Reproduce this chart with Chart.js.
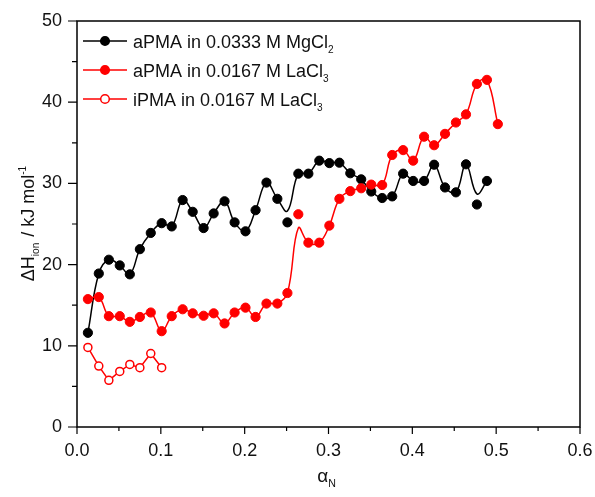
<!DOCTYPE html>
<html>
<head>
<meta charset="utf-8">
<script src="https://cdn.jsdelivr.net/npm/chart.js@4"></script>
<style>
  html, body { margin: 0; padding: 0; background: #fff; }
</style>
</head>
<body>
<canvas id="chart" width="595" height="497"></canvas>
<script>
// degree of neutralisation, aPMA in MgCl2
const alphaMg = [0.013, 0.026, 0.038, 0.051, 0.063, 0.075, 0.088, 0.101, 0.113, 0.126,
  0.138, 0.151, 0.163, 0.176, 0.188, 0.201, 0.213, 0.226, 0.239, 0.251,
  0.264, 0.276, 0.289, 0.301, 0.313, 0.326, 0.339, 0.351, 0.364, 0.376,
  0.389, 0.401, 0.414, 0.426, 0.439, 0.452, 0.464, 0.477, 0.489];
const dhMg = [11.6, 18.9, 20.6, 19.9, 18.8, 21.9, 23.9, 25.1, 24.7, 27.95,
  26.5, 24.5, 26.3, 27.8, 25.2, 24.1, 26.7, 30.1, 28.1, 25.2,
  31.2, 31.2, 32.8, 32.5, 32.55, 31.25, 30.5, 29.0, 28.2, 28.4,
  31.2, 30.3, 30.3, 32.3, 29.5, 28.9, 32.35, 27.4, 30.3];

// aPMA in LaCl3
const alphaLa = [0.013, 0.026, 0.038, 0.051, 0.063, 0.075, 0.088, 0.101, 0.113, 0.126,
  0.138, 0.151, 0.163, 0.176, 0.188, 0.201, 0.213, 0.226, 0.239, 0.251,
  0.264, 0.276, 0.289, 0.301, 0.313, 0.326, 0.339, 0.351, 0.364, 0.376,
  0.389, 0.401, 0.414, 0.426, 0.439, 0.452, 0.464, 0.477, 0.489, 0.502];
const dhLa = [15.75, 16.0, 13.65, 13.65, 12.95, 13.55, 14.1, 11.8, 13.65, 14.5,
  14.0, 13.7, 14.0, 12.75, 14.1, 14.7, 13.55, 15.2, 15.2, 16.5,
  26.2, 22.7, 22.7, 24.8, 28.1, 29.05, 29.4, 29.85, 29.8, 33.5,
  34.1, 32.8, 35.75, 34.7, 36.1, 37.5, 38.5, 42.25, 42.75, 37.3];

// iPMA in LaCl3
const alphaIso = [0.013, 0.026, 0.038, 0.051, 0.063, 0.075, 0.088, 0.101];
const dhIso = [9.8, 7.5, 5.75, 6.85, 7.7, 7.3, 9.05, 7.3];

// smoothed curves: same as points except where the curve misses a point
const fitMg = dhMg.slice();
fitMg[19] = 26.6;
fitMg[37] = 28.7;
const fitLa = dhLa.slice();
fitLa[20] = 24.5;

const seriesNames = ["aPMA in 0.0333 M MgCl", "aPMA in 0.0167 M LaCl", "iPMA in 0.0167 M LaCl"];
const seriesSubs = ["2", "3", "3"];
const xMajor = [0, 0.1, 0.2, 0.3, 0.4, 0.5, 0.6];
const yMajor = [0, 10, 20, 30, 40, 50];

const FONT = "'Liberation Sans', Arial, sans-serif";
const RED = "#ff0000";

const pts = (xs, ys) => xs.map((x, i) => ({ x: x, y: ys[i] }));

// text with sub/superscript pieces
function richWidth(ctx, parts, size) {
  let w = 0;
  parts.forEach(p => {
    ctx.font = (p.s ? size * 0.56 : size) + "px " + FONT;
    w += ctx.measureText(p.t).width;
  });
  return w;
}
function drawRich(ctx, parts, x, y, size) {
  parts.forEach(p => {
    const fs = p.s ? size * 0.56 : size;
    ctx.font = fs + "px " + FONT;
    const dy = p.s === "sub" ? size * 0.28 : p.s === "sup" ? -size * 0.42 : 0;
    ctx.fillText(p.t, x, y + dy);
    x += ctx.measureText(p.t).width + (p.s ? 1 : 0);
  });
}

const decor = {
  id: "decor",
  afterDraw(chart) {
    const { ctx, chartArea: a, scales } = chart;
    const xs = scales.x, ys = scales.y;
    ctx.save();
    ctx.strokeStyle = "#000";
    ctx.lineWidth = 1.5;
    ctx.strokeRect(a.left, a.top, a.right - a.left, a.bottom - a.top);

    // tick marks, major and minor, pointing outward
    ctx.lineWidth = 1.2;
    ctx.beginPath();
    for (let i = 0; i < xMajor.length; i++) {
      const px = xs.getPixelForValue(xMajor[i]);
      ctx.moveTo(px, a.bottom); ctx.lineTo(px, a.bottom + 7);
      if (i < xMajor.length - 1) {
        const mx = xs.getPixelForValue((xMajor[i] + xMajor[i + 1]) / 2);
        ctx.moveTo(mx, a.bottom); ctx.lineTo(mx, a.bottom + 4);
      }
    }
    for (let i = 0; i < yMajor.length; i++) {
      const py = ys.getPixelForValue(yMajor[i]);
      ctx.moveTo(a.left, py); ctx.lineTo(a.left - 9, py);
      if (i < yMajor.length - 1) {
        const my = ys.getPixelForValue((yMajor[i] + yMajor[i + 1]) / 2);
        ctx.moveTo(a.left, my); ctx.lineTo(a.left - 5, my);
      }
    }
    ctx.stroke();

    ctx.fillStyle = "#111";
    ctx.textBaseline = "alphabetic";
    ctx.textAlign = "left";

    // x title
    const xt = [{ t: "\u03b1" }, { t: "N", s: "sub" }];
    const xw = richWidth(ctx, xt, 19);
    drawRich(ctx, xt, (a.left + a.right) / 2 - xw / 2 - 2, 482, 19);

    // y title
    const yt = [{ t: "\u0394H" }, { t: "ion", s: "sub" }, { t: " / kJ mol" }, { t: "-1", s: "sup" }];
    const yw = richWidth(ctx, yt, 18);
    ctx.save();
    ctx.translate(34, (a.top + a.bottom) / 2);
    ctx.rotate(-Math.PI / 2);
    drawRich(ctx, yt, -yw / 2, 0, 18);
    ctx.restore();

    // legend
    const styles = [
      { line: "#000", fill: "#000", stroke: "#000" },
      { line: RED, fill: RED, stroke: RED },
      { line: RED, fill: "#fff", stroke: RED }
    ];
    for (let i = 0; i < seriesNames.length; i++) {
      const ly = 41 + i * 29;
      ctx.strokeStyle = styles[i].line;
      ctx.lineWidth = 1.5;
      ctx.beginPath();
      ctx.moveTo(83, ly); ctx.lineTo(127, ly);
      ctx.stroke();
      ctx.beginPath();
      ctx.arc(105, ly, 4.3, 0, Math.PI * 2);
      ctx.fillStyle = styles[i].fill;
      ctx.fill();
      ctx.strokeStyle = styles[i].stroke;
      ctx.stroke();
      ctx.fillStyle = "#111";
      drawRich(ctx, [{ t: seriesNames[i] }, { t: seriesSubs[i], s: "sub" }], 133, ly + 7, 18);
    }
    ctx.restore();
  }
};

new Chart(document.getElementById("chart"), {
  type: "line",
  data: {
    datasets: [
      {
        data: pts(alphaMg, fitMg),
        borderColor: "#000",
        borderWidth: 1.5,
        pointRadius: 0,
        tension: 0.4,
        order: 6
      },
      {
        data: pts(alphaMg, dhMg),
        showLine: false,
        pointRadius: 4.6,
        backgroundColor: "#000",
        borderColor: "#000",
        borderWidth: 1,
        order: 5
      },
      {
        data: pts(alphaLa, fitLa),
        borderColor: RED,
        borderWidth: 1.5,
        pointRadius: 0,
        tension: 0.4,
        order: 4
      },
      {
        data: pts(alphaLa, dhLa),
        showLine: false,
        pointRadius: 4.6,
        backgroundColor: RED,
        borderColor: RED,
        borderWidth: 1,
        order: 3
      },
      {
        data: pts(alphaIso, dhIso),
        borderColor: RED,
        borderWidth: 1.5,
        tension: 0,
        pointRadius: 4,
        pointBackgroundColor: "#fff",
        pointBorderColor: RED,
        pointBorderWidth: 1.5,
        order: 2
      }
    ]
  },
  options: {
    responsive: false,
    animation: false,
    layout: { autoPadding: false, padding: { top: 21, right: 15, left: 0, bottom: 0 } },
    scales: {
      x: {
        type: "linear",
        min: 0,
        max: 0.6,
        afterFit: (s) => { s.height = 70; s.paddingLeft = 0; s.paddingRight = 0; },
        grid: { display: false, drawTicks: false },
        border: { display: false },
        ticks: {
          stepSize: 0.1,
          padding: 13,
          color: "#111",
          font: { family: FONT, size: 18 },
          callback: (v) => v.toFixed(1)
        }
      },
      y: {
        min: 0,
        max: 50,
        afterFit: (s) => { s.width = 77; s.paddingTop = 0; s.paddingBottom = 0; },
        grid: { display: false, drawTicks: false },
        border: { display: false },
        ticks: {
          stepSize: 10,
          padding: 15,
          color: "#111",
          font: { family: FONT, size: 18 }
        }
      }
    },
    plugins: {
      legend: { display: false },
      tooltip: { enabled: false }
    }
  },
  plugins: [decor]
});
</script>
</body>
</html>
